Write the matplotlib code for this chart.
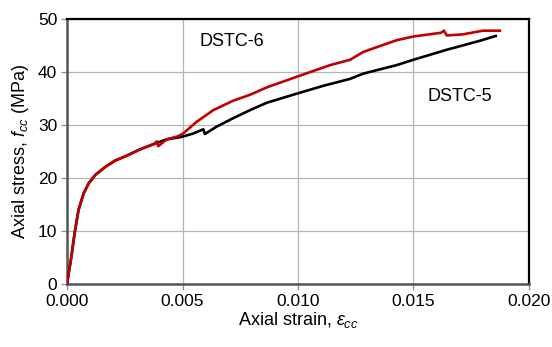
import matplotlib
matplotlib.use("Agg")
import matplotlib.pyplot as plt

plt.rcParams['font.family'] = ['Liberation Sans', 'DejaVu Sans']
plt.rcParams['mathtext.fontset'] = 'custom'
plt.rcParams['mathtext.rm'] = 'Liberation Sans'
plt.rcParams['mathtext.it'] = 'Liberation Sans:italic'

# DSTC-6 (red) axial strain / axial stress readings
strain_6 = [0.0, 0.00019, 0.00033, 0.0005, 0.00072, 0.00094, 0.00123, 0.00166,
            0.00209, 0.00258, 0.00316, 0.00381, 0.00388, 0.00395, 0.00432,
            0.00475, 0.0050, 0.00561, 0.00633, 0.0072, 0.00792, 0.00865,
            0.01001, 0.01139, 0.01225, 0.01283, 0.01427, 0.01499, 0.01619,
            0.01632, 0.01644, 0.01713, 0.0180, 0.01874]
stress_6 = [0.0, 5.2, 9.6, 14.0, 17.1, 19.0, 20.6, 22.1,
            23.3, 24.2, 25.4, 26.5, 26.9, 26.0, 27.3,
            27.8, 28.3, 30.6, 32.8, 34.6, 35.7, 37.1,
            39.2, 41.3, 42.3, 43.8, 46.0, 46.7, 47.4,
            47.8, 46.9, 47.1, 47.8, 47.8]

# DSTC-5 (black) readings
strain_5 = [0.0, 0.00019, 0.00033, 0.0005, 0.00072, 0.00094, 0.00123, 0.00166,
            0.00209, 0.00258, 0.00316, 0.00381, 0.00432, 0.00475, 0.0050,
            0.00547, 0.0059, 0.00597, 0.00648, 0.0072, 0.00792, 0.00865,
            0.01001, 0.0111, 0.01225, 0.01283, 0.01427, 0.01499, 0.01644,
            0.01788, 0.01856]
stress_5 = [0.0, 5.2, 9.6, 14.0, 17.1, 19.0, 20.6, 22.1,
            23.3, 24.2, 25.4, 26.5, 27.3, 27.6, 27.8,
            28.4, 29.2, 28.3, 29.7, 31.3, 32.8, 34.2,
            36.0, 37.4, 38.7, 39.7, 41.3, 42.3, 44.2,
            45.9, 46.8]

x_ticks = [0.0, 0.005, 0.010, 0.015, 0.020]
x_tick_labels = ['0.000', '0.005', '0.010', '0.015', '0.020']
y_ticks = [0, 10, 20, 30, 40, 50]

fig = plt.figure(figsize=(5.52, 3.47), dpi=100)
ax = fig.add_axes([0.1214, 0.1816, 0.8369, 0.7636])

ax.plot(strain_5, stress_5, color='black', lw=1.9, zorder=3)
ax.plot(strain_6, stress_6, color='#c00000', lw=1.9, zorder=4)

ax.text(0.00714, 45.7, 'DSTC-6', ha='center', va='center', fontsize=13)
ax.text(0.01701, 35.3, 'DSTC-5', ha='center', va='center', fontsize=13)

ax.set_xlim(0, 0.02)
ax.set_ylim(0, 50)
ax.set_xticks(x_ticks)
ax.set_xticklabels(x_tick_labels)
ax.set_yticks(y_ticks)
ax.grid(True, color='#b4b4b4', lw=0.9)
ax.set_axisbelow(True)

ax.tick_params(direction='out', length=4, width=0.9, color='#8c8c8c',
               labelsize=12.5, pad=3)

for side in ['top', 'right']:
    ax.spines[side].set_color('black')
    ax.spines[side].set_linewidth(1.6)
for side in ['left', 'bottom']:
    ax.spines[side].set_color('#555555')
    ax.spines[side].set_linewidth(1.8)

ax.set_xlabel(r'Axial strain, $\mathit{\varepsilon}_{cc}$', fontsize=13, labelpad=1)
ax.set_ylabel(r'Axial stress, $\mathit{f}_{cc}$ (MPa)', fontsize=13, labelpad=5)

fig.savefig('out.png', dpi=100)
